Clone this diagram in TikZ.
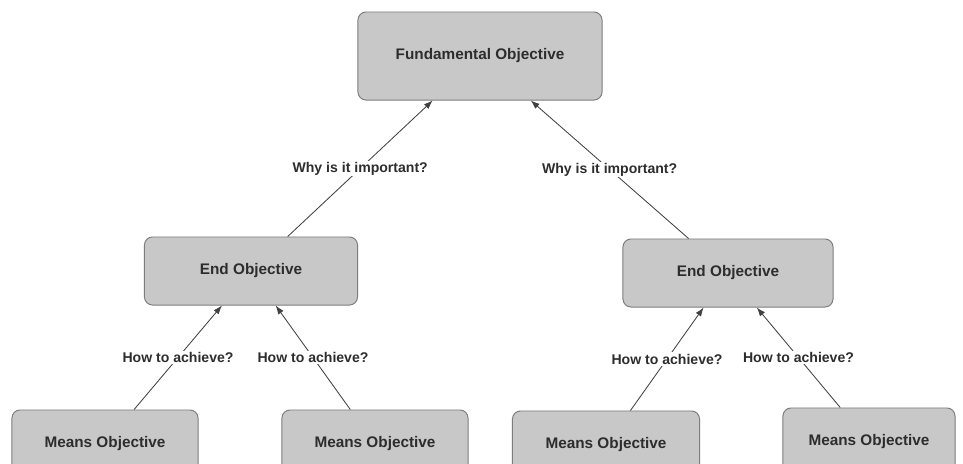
\documentclass[tikz,border=0pt]{standalone}
\usepackage{fontspec}
\setmainfont{Liberation Sans}
\usetikzlibrary{arrows.meta}
\definecolor{boxfill}{RGB}{200,200,200}
\definecolor{boxline}{RGB}{125,125,125}
\definecolor{inkgray}{RGB}{45,45,45}
\definecolor{linegray}{RGB}{65,65,65}

\begin{document}
\begin{tikzpicture}[x=0.025cm,y=-0.025cm,
objbox/.style={draw=boxline,fill=boxfill,rounded corners=0.2cm,line width=0.7pt,text=inkgray,font=\fontsize{10.9}{13}\selectfont\bfseries,minimum height=1.7cm,inner sep=0pt},
askline/.style={draw=linegray,line width=0.6pt,-{Latex[length=0.22cm,width=0.16cm]}},
asklabel/.style={fill=white,text=inkgray,font=\fontsize{10}{12}\selectfont\bfseries,inner sep=1pt}]
\clip (0,0) rectangle (963,463);
\fill[white] (0,0) rectangle (963,463);

\node[objbox,minimum width=6.1cm,minimum height=2.2cm] (fund) at (480,56) {Fundamental Objective};

\node[objbox,minimum width=5.325cm] (endL) at (251,271) {End Objective};
\node[objbox,minimum width=5.25cm] (endR) at (728,273) {End Objective};

\node[objbox,minimum width=4.65cm] (meansA) at (105,444) {Means Objective};
\node[objbox,minimum width=4.65cm] (meansB) at (375,444) {Means Objective};
\node[objbox,minimum width=4.675cm] (meansC) at (606,445) {Means Objective};
\node[objbox,minimum width=4.3cm] (meansD) at (869,442) {Means Objective};

\draw[askline] (endL) -- node[asklabel] {Why is it important?} (fund);
\draw[askline] (endR) -- node[asklabel] {Why is it important?} (fund);

\draw[askline] (meansA) -- node[asklabel] {How to achieve?} (endL);
\draw[askline] (meansB) -- node[asklabel] {How to achieve?} (endL);
\draw[askline] (meansC) -- node[asklabel] {How to achieve?} (endR);
\draw[askline] (meansD) -- node[asklabel] {How to achieve?} (endR);

\end{tikzpicture}
\end{document}
